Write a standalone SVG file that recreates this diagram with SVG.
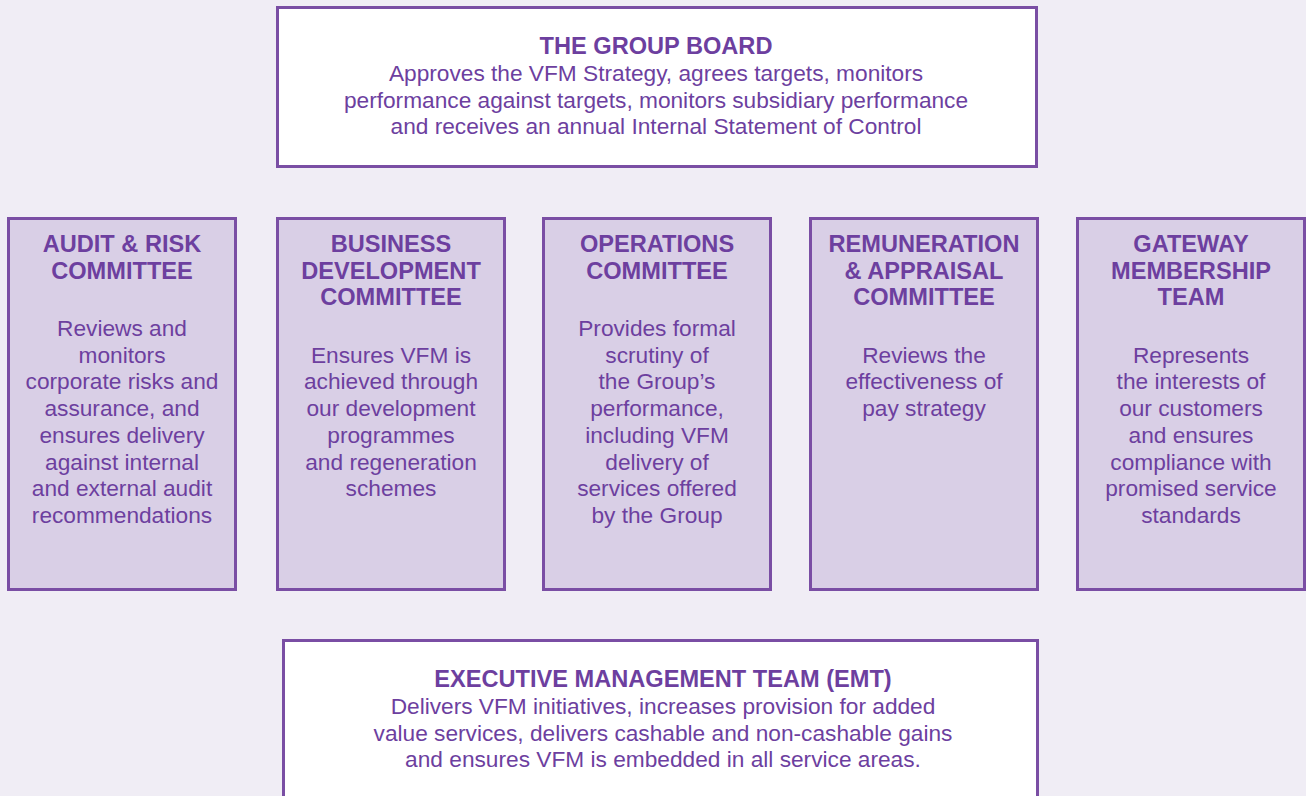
<svg xmlns="http://www.w3.org/2000/svg" width="1306" height="796" viewBox="0 0 1306 796">
<style>
.bg{fill:#f0edf5}
.box{stroke:#7a4ea4;stroke-width:3}
.white{fill:#ffffff}
.lav{fill:#d9cfe6}
text{font-family:"Liberation Sans",Arial,sans-serif;font-size:22.7px;fill:#6d3f9f;text-anchor:middle}
.t{font-weight:bold;font-size:23.6px}
</style>
<rect class="bg" x="0" y="0" width="1306" height="796"/>
<g id="group-board">
<rect class="box white" x="277.5" y="7.5" width="759" height="159"/>
<text class="t" x="656" y="54">THE GROUP BOARD</text>
<text x="656" y="81">Approves the VFM Strategy, agrees targets, monitors</text>
<text x="656" y="107.5">performance against targets, monitors subsidiary performance</text>
<text x="656" y="134">and receives an annual Internal Statement of Control</text>
</g>
<g id="audit-risk">
<rect class="box lav" x="8.5" y="218.5" width="227" height="371"/>
<text class="t" x="122" y="252">AUDIT &amp; RISK</text>
<text class="t" x="122" y="279">COMMITTEE</text>
<text x="122" y="336">Reviews and</text>
<text x="122" y="362.5">monitors</text>
<text x="122" y="389">corporate risks and</text>
<text x="122" y="416">assurance, and</text>
<text x="122" y="443">ensures delivery</text>
<text x="122" y="469.5">against internal</text>
<text x="122" y="496">and external audit</text>
<text x="122" y="522.5">recommendations</text>
</g>
<g id="business-development">
<rect class="box lav" x="277.5" y="218.5" width="227" height="371"/>
<text class="t" x="391" y="252">BUSINESS</text>
<text class="t" x="391" y="279">DEVELOPMENT</text>
<text class="t" x="391" y="305">COMMITTEE</text>
<text x="391" y="362.5">Ensures VFM is</text>
<text x="391" y="389">achieved through</text>
<text x="391" y="416">our development</text>
<text x="391" y="443">programmes</text>
<text x="391" y="469.5">and regeneration</text>
<text x="391" y="496">schemes</text>
</g>
<g id="operations">
<rect class="box lav" x="543.5" y="218.5" width="227" height="371"/>
<text class="t" x="657" y="252">OPERATIONS</text>
<text class="t" x="657" y="279">COMMITTEE</text>
<text x="657" y="336">Provides formal</text>
<text x="657" y="362.5">scrutiny of</text>
<text x="657" y="389">the Group’s</text>
<text x="657" y="416">performance,</text>
<text x="657" y="443">including VFM</text>
<text x="657" y="469.5">delivery of</text>
<text x="657" y="496">services offered</text>
<text x="657" y="522.5">by the Group</text>
</g>
<g id="remuneration">
<rect class="box lav" x="810.5" y="218.5" width="227" height="371"/>
<text class="t" x="924" y="252">REMUNERATION</text>
<text class="t" x="924" y="279">&amp; APPRAISAL</text>
<text class="t" x="924" y="305">COMMITTEE</text>
<text x="924" y="362.5">Reviews the</text>
<text x="924" y="389">effectiveness of</text>
<text x="924" y="416">pay strategy</text>
</g>
<g id="gateway">
<rect class="box lav" x="1077.5" y="218.5" width="227" height="371"/>
<text class="t" x="1191" y="252">GATEWAY</text>
<text class="t" x="1191" y="279">MEMBERSHIP</text>
<text class="t" x="1191" y="305">TEAM</text>
<text x="1191" y="362.5">Represents</text>
<text x="1191" y="389">the interests of</text>
<text x="1191" y="416">our customers</text>
<text x="1191" y="443">and ensures</text>
<text x="1191" y="469.5">compliance with</text>
<text x="1191" y="496">promised service</text>
<text x="1191" y="522.5">standards</text>
</g>
<g id="emt">
<rect class="box white" x="283.5" y="640.5" width="754" height="170"/>
<text class="t" x="663" y="687">EXECUTIVE MANAGEMENT TEAM (EMT)</text>
<text x="663" y="714">Delivers VFM initiatives, increases provision for added</text>
<text x="663" y="740.5">value services, delivers cashable and non-cashable gains</text>
<text x="663" y="767">and ensures VFM is embedded in all service areas.</text>
</g>
<g id="connectors"></g>
</svg>
